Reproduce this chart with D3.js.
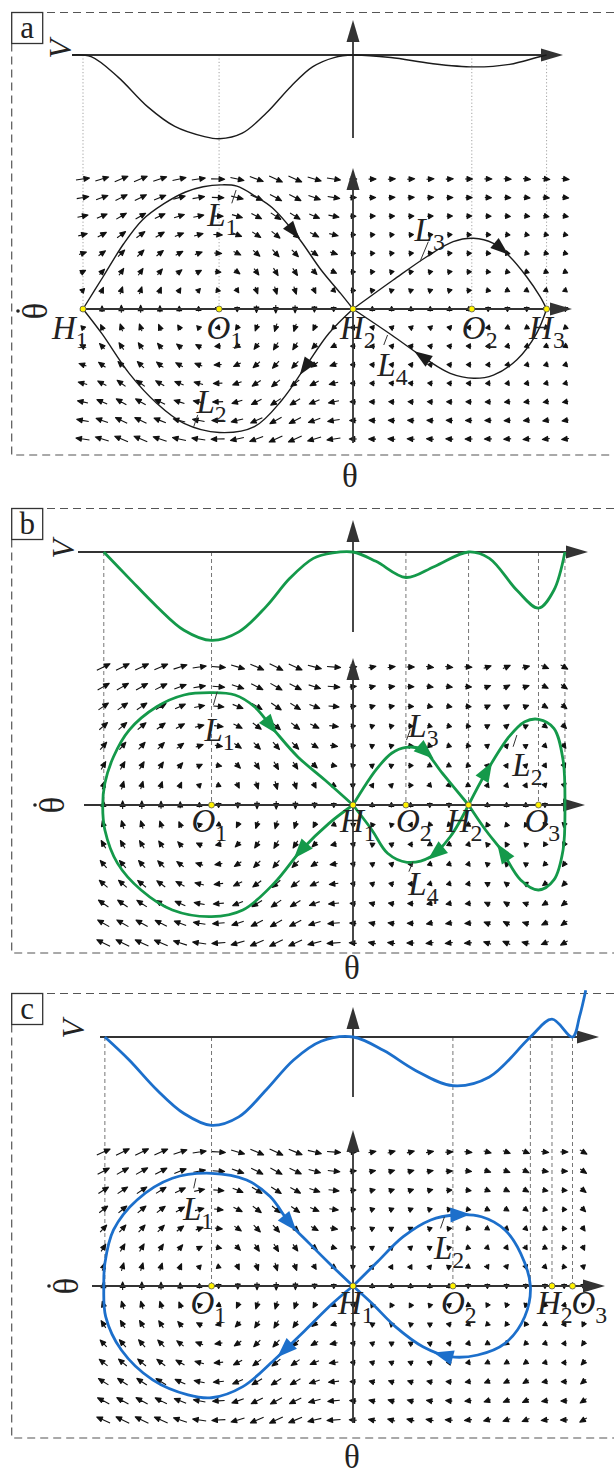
<!DOCTYPE html>
<html>
<head>
<meta charset="utf-8">
<script src="https://cdn.jsdelivr.net/npm/d3@7"></script>
<style>
body { margin: 0; background: #fff; }
svg { display: block; }
text { font-family: "Liberation Serif", "Times New Roman", serif; fill: #222; }
</style>
</head>
<body>
<div id="fig"></div>
<script>
// potential V(theta) (V in units of the deepest well)
var thetaA = [-1.04, -0.97, -0.87, -0.76, -0.66, -0.55, -0.495, -0.41, -0.32, -0.23, -0.15, -0.07, 0, 0.14, 0.29, 0.447, 0.58, 0.68, 0.717];
var vA     = [0, -0.02, -0.26, -0.61, -0.84, -0.96, -0.985, -0.92, -0.68, -0.37, -0.14, -0.03, 0, -0.03, -0.10, -0.14, -0.11, -0.03, 0];

var thetaB = [-0.923, -0.829, -0.727, -0.626, -0.524, -0.423, -0.321, -0.234, -0.147, -0.075, 0, 0.085, 0.196, 0.302, 0.428, 0.505, 0.607, 0.687, 0.744, 0.785];
var vB     = [0, -0.31, -0.64, -0.92, -1.04, -0.94, -0.64, -0.31, -0.075, -0.01, 0, -0.11, -0.30, -0.17, 0, -0.075, -0.45, -0.66, -0.45, 0];

var thetaC = [-0.919, -0.829, -0.727, -0.626, -0.524, -0.423, -0.321, -0.22, -0.118, 0, 0.114, 0.23, 0.37, 0.505, 0.657, 0.737, 0.813, 0.839, 0.862];
var vC     = [0, -0.27, -0.62, -0.90, -1.04, -0.94, -0.62, -0.27, -0.05, 0, -0.16, -0.39, -0.573, -0.47, 0, 0.21, 0, 0.24, 0.55];

// separatrices [theta, thetaDot], listed in the direction of the flow
var aL1 = [[-1, 0], [-0.925, 0.25], [-0.85, 0.5], [-0.78, 0.685], [-0.70, 0.81], [-0.62, 0.90], [-0.555, 0.94], [-0.49, 0.955], [-0.43, 0.945], [-0.36, 0.865], [-0.30, 0.78], [-0.205, 0.556], [-0.118, 0.30], [-0.046, 0.12], [0, 0]];
var aL2 = [[0, 0], [-0.089, -0.187], [-0.176, -0.444], [-0.263, -0.70], [-0.365, -0.905], [-0.495, -0.95], [-0.626, -0.88], [-0.727, -0.725], [-0.829, -0.495], [-0.93, -0.19], [-1, 0]];
var aL3 = [[0, 0], [0.149, 0.223], [0.273, 0.402], [0.371, 0.518], [0.446, 0.544], [0.52, 0.505], [0.581, 0.402], [0.643, 0.248], [0.693, 0.095], [0.717, 0]];
var aL4 = [[0.717, 0], [0.68, -0.187], [0.607, -0.39], [0.52, -0.508], [0.447, -0.533], [0.36, -0.495], [0.273, -0.39], [0.143, -0.2], [0, 0]];

var bL1 = [[0, 0], [-0.089, -0.133], [-0.191, -0.326], [-0.292, -0.567], [-0.408, -0.761], [-0.524, -0.809], [-0.669, -0.761], [-0.785, -0.616], [-0.872, -0.423], [-0.919, -0.181], [-0.927, 0],
           [-0.919, 0.157], [-0.887, 0.35], [-0.829, 0.543], [-0.727, 0.712], [-0.626, 0.797], [-0.524, 0.814], [-0.437, 0.797], [-0.365, 0.712], [-0.292, 0.543], [-0.205, 0.35], [-0.104, 0.181], [0, 0]];
var bL3 = [[0, 0], [0.085, 0.254], [0.143, 0.375], [0.196, 0.418], [0.259, 0.399], [0.331, 0.23], [0.428, 0]];
var bL4 = [[0.428, 0], [0.36, -0.23], [0.288, -0.375], [0.2, -0.415], [0.128, -0.35], [0.07, -0.181], [0, 0]];
var bL2 = [[0.428, 0], [0.491, 0.23], [0.578, 0.495], [0.636, 0.604], [0.687, 0.621], [0.744, 0.556], [0.778, 0.326], [0.785, 0],
           [0.778, -0.326], [0.744, -0.543], [0.687, -0.616], [0.621, -0.543], [0.549, -0.326], [0.491, -0.181], [0.428, 0]];

var cL1 = [[0, 0], [-0.075, -0.129], [-0.176, -0.328], [-0.292, -0.552], [-0.408, -0.751], [-0.524, -0.834], [-0.611, -0.813], [-0.742, -0.701], [-0.858, -0.478], [-0.916, -0.229], [-0.923, 0],
           [-0.919, 0.169], [-0.887, 0.418], [-0.8, 0.642], [-0.669, 0.804], [-0.524, 0.841], [-0.394, 0.791], [-0.307, 0.667], [-0.234, 0.468], [-0.162, 0.318], [-0.075, 0.144], [0, 0]];
var cL2 = [[0, 0], [0.085, 0.169], [0.186, 0.368], [0.288, 0.493], [0.375, 0.53], [0.476, 0.517], [0.563, 0.418], [0.621, 0.244], [0.657, 0],
           [0.636, -0.229], [0.563, -0.428], [0.462, -0.515], [0.36, -0.527], [0.259, -0.453], [0.157, -0.303], [0.07, -0.129], [0, 0]];

// arrowheads on the separatrices: [curve index, theta, thetaDot]
var arrowsA = [[0, -0.233, 0.57], [1, -0.178, -0.446], [2, 0.544, 0.454], [3, 0.252, -0.377]];
var arrowsB = [[0, -0.307, 0.567], [0, -0.191, -0.338], [1, 0.273, 0.391], [2, 0.302, -0.338], [3, 0.498, 0.246], [3, 0.549, -0.35]];
var arrowsC = [[0, -0.249, 0.443], [0, -0.249, -0.491], [1, 0.396, 0.53], [1, 0.331, -0.527]];

// equilibria
var eqNamesA = ["H1", "O1", "H2", "O2", "H3"], eqThetaA = [-1, -0.496, 0, 0.44, 0.717];
var eqNamesB = ["O1", "H1", "O2", "H2", "O3"], eqThetaB = [-0.524, 0, 0.196, 0.428, 0.687];
var eqNamesC = ["O1", "H1", "O2", "H2", "O3"], eqThetaC = [-0.524, 0, 0.37, 0.737, 0.813];

// guide lines from V down to the phase plane
var guidesA = [-1, -0.496, 0.44, 0.717];
var guidesB = [-0.923, -0.524, 0.196, 0.428, 0.687, 0.785];
var guidesC = [-0.919, -0.524, 0.37, 0.657, 0.737, 0.813];

// curve labels: [name, sub, theta, thetaDot, tick theta1, dot1, tick theta2, dot2]
var labelsA = [["L", "1", -0.54, 0.64, -0.449, 0.813, -0.433, 0.915], ["L", "2", -0.58, -0.80, -0.59, -0.905, -0.575, -0.815],
               ["L", "3", 0.228, 0.52, 0.279, 0.518, 0.248, 0.364], ["L", "4", 0.09, -0.515, 0.128, -0.2, 0.114, -0.277]];
var labelsB = [["L", "1", -0.55, 0.465, -0.503, 0.821, -0.517, 0.725], ["L", "3", 0.205, 0.49, 0.212, 0.545, 0.198, 0.47],
               ["L", "2", 0.59, 0.212, 0.607, 0.507, 0.593, 0.422], ["L", "4", 0.205, -0.655, 0.222, -0.411, 0.207, -0.483]];
var labelsC = [["L", "1", -0.63, 0.49, -0.582, 0.804, -0.59, 0.729], ["L", "2", 0.3, 0.205, 0.339, 0.517, 0.324, 0.43]];

var panels = [
  { key: "a", theta: thetaA, V: vA, curves: [aL1, aL2, aL3, aL4], arrows: arrowsA, eqNames: eqNamesA, eqTheta: eqThetaA,
    guides: guidesA, labels: labelsA, color: "#1b1b1b", width: 1.4, head: [18, 6.5],
    guideDash: "1.2,2.2", guideColor: "#999", top: 12.5, bottom: 455,
    vAxisY: 55, vAxis: [72, 563], vVert: [138, 20], pAxisY: 309, pUnit: 130, pAxis: [80, 572], pVert: [443, 168],
    cols: [-14, 11], colStep: 0.0715, eqDx: [-31, -12.5, -13, -10, -17.5], eqDy: 30,
    vLab: [60, 49], dotLab: [35, 311], thLab: [350, 487] },
  { key: "b", theta: thetaB, V: vB, curves: [bL1, bL3, bL4, bL2], arrows: arrowsB, eqNames: eqNamesB, eqTheta: eqThetaB,
    guides: guidesB, labels: labelsB, color: "#14994a", width: 2.8, head: [20, 7.5],
    guideDash: "4,3", guideColor: "#666", top: 508.5, bottom: 953,
    vAxisY: 552, vAxis: [78, 588], vVert: [632, 520], pAxisY: 805, pUnit: 138, pAxis: [84, 585], pVert: [943, 658],
    cols: [-13, 11], colStep: 0.0711, eqDx: [-20, -13, -10, -22, -14], eqDy: 27,
    vLab: [63, 549], dotLab: [52, 805], thLab: [352, 979] },
  { key: "c", theta: thetaC, V: vC, curves: [cL1, cL2], arrows: arrowsC, eqNames: eqNamesC, eqTheta: eqThetaC,
    guides: guidesC, labels: labelsC, color: "#1c6fcb", width: 2.8, head: [20, 7.5],
    guideDash: "4,3", guideColor: "#666", top: 993.5, bottom: 1438,
    vAxisY: 1037, vAxis: [100, 599], vVert: [1097, 1007], pAxisY: 1286, pUnit: 134, pAxis: [92, 605], pVert: [1423, 1130],
    cols: [-13, 12], colStep: 0.0711, eqDx: [-21, -15, -12, -15, -1], eqDy: 28,
    vLab: [73, 1029], dotLab: [66, 1286], thLab: [352, 1468] }
];

var svg = d3.select("#fig").append("svg")
    .attr("width", 614)
    .attr("height", 1477);

var x = d3.scaleLinear().domain([-1, 1]).range([83, 623]);
var axisColor = "#333";

// dV/dtheta from the sampled potential (central differences, linear in between)
function slopeFn(th, v) {
    var m = th.map(function(t, i) {
        var a = Math.max(0, i - 1), b = Math.min(th.length - 1, i + 1);
        return (v[b] - v[a]) / (th[b] - th[a]);
    });
    return function(t) {
        if (t <= th[0]) return m[0];
        if (t >= th[th.length - 1]) return m[m.length - 1];
        var i = d3.bisectRight(th, t) - 1;
        var f = (t - th[i]) / (th[i + 1] - th[i]);
        return m[i] * (1 - f) + m[i + 1] * f;
    };
}

function headPath(tx, ty, ux, uy, len, hw) {
    var bx = tx - ux * len, by = ty - uy * len;
    return "M" + tx + "," + ty + "L" + (bx - uy * hw) + "," + (by + ux * hw) +
        "L" + (bx + uy * hw) + "," + (by - ux * hw) + "Z";
}

function axisArrow(g, x1, y1, x2, y2) {
    var d = Math.hypot(x2 - x1, y2 - y1), ux = (x2 - x1) / d, uy = (y2 - y1) / d;
    g.append("line")
        .attr("x1", x1).attr("y1", y1)
        .attr("x2", x2 - ux * 10).attr("y2", y2 - uy * 10)
        .attr("stroke", axisColor).attr("stroke-width", 1.8);
    g.append("path")
        .attr("d", headPath(x2, y2, ux, uy, 22, 6.5))
        .attr("fill", axisColor);
}

function subLabel(g, px, py, main, sub, size) {
    var t = g.append("text").attr("x", px).attr("y", py);
    t.append("tspan").attr("font-style", "italic").attr("font-size", size).text(main);
    t.append("tspan").attr("font-size", size * 0.72).attr("dy", 9).text(sub);
}

panels.forEach(function(p) {
    var g = svg.append("g").attr("class", "panel-" + p.key);
    var yV = d3.scaleLinear().domain([-1, 0]).range([p.vAxisY + 85, p.vAxisY]);
    var yP = d3.scaleLinear().domain([-1, 1]).range([p.pAxisY + p.pUnit, p.pAxisY - p.pUnit]);

    // dashed frame and the panel letter
    g.append("path")
        .attr("d", "M614," + p.top + "H43M11.7," + (p.top + 31) + "V" + p.bottom + "H614")
        .attr("fill", "none").attr("stroke", "#555")
        .attr("stroke-width", 1.2).attr("stroke-dasharray", "8,5");
    g.append("rect")
        .attr("x", 11.7).attr("y", p.top).attr("width", 31).attr("height", 31)
        .attr("fill", "none").attr("stroke", "#333").attr("stroke-width", 1.3);
    g.append("text")
        .attr("x", 27.2).attr("y", p.top + 25)
        .attr("text-anchor", "middle").attr("font-size", 31)
        .text(p.key);

    // guides
    g.selectAll(".guide")
        .data(p.guides)
        .enter().append("line")
        .attr("class", "guide")
        .attr("x1", function(d) { return x(d); }).attr("x2", function(d) { return x(d); })
        .attr("y1", yV(0)).attr("y2", yP(0))
        .attr("stroke", p.guideColor).attr("stroke-width", 0.9)
        .attr("stroke-dasharray", p.guideDash);

    // direction field
    var dV = slopeFn(p.theta, p.V);
    var field = [];
    d3.range(p.cols[0], p.cols[1] + 1).forEach(function(i) {
        var t = i * p.colStep;
        d3.range(-7, 8).forEach(function(j) {
            var s = j / 7;
            var w = Math.max(-4, Math.min(4, -dV(t)));
            var sx = s, sy = -w * 0.15;
            var mag = Math.sqrt(sx * sx + sy * sy);
            var gain = t < -0.02 ? 1 : 0.55;
            var len = Math.max(5, gain * Math.min(15, 3 + 10.5 * mag));
            field.push({ t: t, s: s, ux: mag ? sx / mag : 0, uy: mag ? sy / mag : -1, len: len });
        });
    });
    g.append("g").attr("class", "field")
        .selectAll("path")
        .data(field)
        .enter().append("path")
        .attr("d", function(d) {
            var cx = x(d.t), cy = yP(d.s);
            var tx = cx + d.ux * d.len / 2, ty = cy + d.uy * d.len / 2;
            var hl = Math.min(5.5, d.len * 0.8);
            return "M" + (cx - d.ux * d.len / 2) + "," + (cy - d.uy * d.len / 2) +
                "L" + (tx - d.ux * hl) + "," + (ty - d.uy * hl) + headPath(tx, ty, d.ux, d.uy, hl, 2.4);
        })
        .attr("fill", "#111").attr("stroke", "#111").attr("stroke-width", 1.1)
        .attr("stroke-linejoin", "round");

    // axes
    axisArrow(g, p.vAxis[0], p.vAxisY, p.vAxis[1], p.vAxisY);
    axisArrow(g, x(0), p.vVert[0], x(0), p.vVert[1]);
    axisArrow(g, p.pAxis[0], p.pAxisY, p.pAxis[1], p.pAxisY);
    axisArrow(g, x(0), p.pVert[0], x(0), p.pVert[1]);

    // potential
    var vLine = d3.line()
        .x(function(d, i) { return x(d); })
        .y(function(d, i) { return yV(p.V[i]); })
        .curve(d3.curveCatmullRom.alpha(0.5));
    g.append("path")
        .attr("d", vLine(p.theta))
        .attr("fill", "none").attr("stroke", p.color).attr("stroke-width", p.width);

    // separatrices
    var line = d3.line()
        .x(function(d) { return x(d[0]); })
        .y(function(d) { return yP(d[1]); })
        .curve(d3.curveCatmullRom.alpha(0.5));
    var paths = p.curves.map(function(c) {
        return g.append("path")
            .attr("d", line(c))
            .attr("fill", "none").attr("stroke", p.color).attr("stroke-width", p.width)
            .attr("stroke-linejoin", "round").node();
    });

    p.arrows.forEach(function(a) {
        var node = paths[a[0]], total = node.getTotalLength();
        var tx = x(a[1]), ty = yP(a[2]), best = 0, bd = Infinity;
        for (var l = 0; l <= total; l += 1) {
            var q = node.getPointAtLength(l), dd = (q.x - tx) * (q.x - tx) + (q.y - ty) * (q.y - ty);
            if (dd < bd) { bd = dd; best = l; }
        }
        var p0 = node.getPointAtLength(Math.max(0, best - 3)), p1 = node.getPointAtLength(Math.min(total, best + 3));
        var d = Math.hypot(p1.x - p0.x, p1.y - p0.y), ux = (p1.x - p0.x) / d, uy = (p1.y - p0.y) / d;
        var c = node.getPointAtLength(best);
        g.append("path")
            .attr("d", headPath(c.x + ux * p.head[0] / 2, c.y + uy * p.head[0] / 2, ux, uy, p.head[0], p.head[1]))
            .attr("fill", p.color);
    });

    // curve labels with their leader ticks
    p.labels.forEach(function(l) {
        subLabel(g, x(l[2]), yP(l[3]), l[0], l[1], 33);
        g.append("line")
            .attr("x1", x(l[4])).attr("y1", yP(l[5]))
            .attr("x2", x(l[6])).attr("y2", yP(l[7]))
            .attr("stroke", "#333").attr("stroke-width", 1);
    });

    // equilibria
    p.eqNames.forEach(function(n, i) {
        subLabel(g, x(p.eqTheta[i]) + p.eqDx[i], p.pAxisY + p.eqDy, n.charAt(0), n.slice(1), 33);
    });
    g.selectAll(".eq")
        .data(p.eqTheta)
        .enter().append("circle")
        .attr("class", "eq")
        .attr("cx", function(d) { return x(d); })
        .attr("cy", yP(0))
        .attr("r", 3)
        .attr("fill", "#fff200").attr("stroke", "#555").attr("stroke-width", 0.8);

    // axis names
    g.append("text")
        .attr("transform", "translate(" + p.vLab[0] + "," + p.vLab[1] + ") rotate(-90)")
        .attr("text-anchor", "middle").attr("dy", 11)
        .attr("font-style", "italic").attr("font-size", 31)
        .text("V");
    var dl = g.append("g").attr("transform", "translate(" + p.dotLab[0] + "," + p.dotLab[1] + ") rotate(-90)");
    dl.append("text")
        .attr("text-anchor", "middle").attr("dy", 12)
        .attr("font-size", 35)
        .text("\u03b8");
    dl.append("circle").attr("cx", 0).attr("cy", -17).attr("r", 1.8).attr("fill", "#222");
    g.append("text")
        .attr("x", p.thLab[0]).attr("y", p.thLab[1])
        .attr("text-anchor", "middle").attr("font-size", 33)
        .text("\u03b8");
});
</script>
</body>
</html>
